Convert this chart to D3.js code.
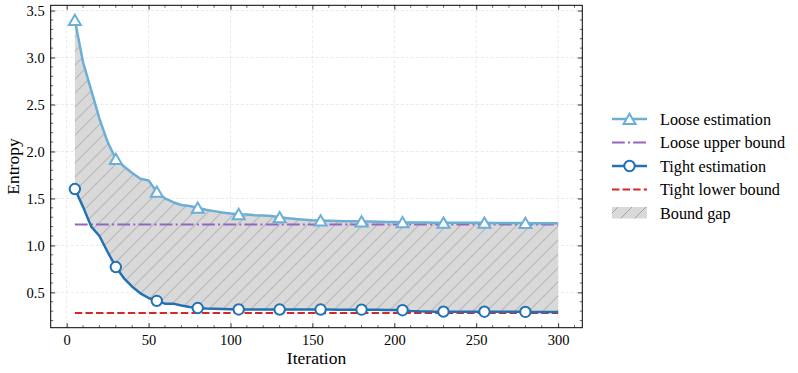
<!DOCTYPE html>
<html>
<head>
<meta charset="utf-8">
<script src="https://cdn.jsdelivr.net/npm/d3@7"></script>
<style>
body { margin: 0; background: #fff; }
text { font-family: "Liberation Serif", "DejaVu Serif", serif; fill: #000; }
</style>
</head>
<body>
<div id="chart"></div>
<script>
var svgWidth = 798;
var svgHeight = 373;

var margin = { top: 5.3, right: 215.7, bottom: 45.3, left: 50.7 };
var chartWidth = svgWidth - margin.left - margin.right;
var chartHeight = svgHeight - margin.top - margin.bottom;

// data: iteration every 5 steps
var iterations = d3.range(5, 301, 5);
var looseEstimation = [
    3.40, 2.95, 2.65, 2.35, 2.10, 1.92, 1.84, 1.77, 1.71, 1.69,
    1.57, 1.50, 1.46, 1.43, 1.42, 1.40, 1.38, 1.365, 1.35, 1.34,
    1.333, 1.328, 1.322, 1.318, 1.313, 1.300, 1.290, 1.280, 1.274, 1.268,
    1.264, 1.262, 1.260, 1.258, 1.256, 1.255, 1.254, 1.252, 1.250, 1.249,
    1.246, 1.245, 1.244, 1.243, 1.242, 1.242, 1.241, 1.241, 1.240, 1.240,
    1.240, 1.239, 1.239, 1.238, 1.238, 1.238, 1.237, 1.237, 1.236, 1.236
];
var tightEstimation = [
    1.60, 1.41, 1.20, 1.10, 0.93, 0.77, 0.65, 0.56, 0.49, 0.44,
    0.41, 0.38, 0.38, 0.36, 0.345, 0.333, 0.328, 0.325, 0.322, 0.320,
    0.318, 0.318, 0.318, 0.317, 0.317, 0.317, 0.317, 0.317, 0.317, 0.317,
    0.317, 0.317, 0.316, 0.316, 0.316, 0.316, 0.315, 0.314, 0.313, 0.312,
    0.310, 0.302, 0.298, 0.296, 0.295, 0.295, 0.295, 0.294, 0.294, 0.294,
    0.294, 0.293, 0.293, 0.293, 0.293, 0.292, 0.292, 0.292, 0.292, 0.292
];
var looseUpperBound = 1.223;
var tightLowerBound = 0.28;

var xTicks = [0, 50, 100, 150, 200, 250, 300];
var yTicks = [0.5, 1.0, 1.5, 2.0, 2.5, 3.0, 3.5];
var legendLabels = ["Loose estimation", "Loose upper bound", "Tight estimation", "Tight lower bound", "Bound gap"];

var data = iterations.map(function(it, i) {
    return { it: it, loose: looseEstimation[i], tight: tightEstimation[i] };
});

var colLoose = "#6baed6";
var colTight = "#2171b5";
var colUpper = "#9467bd";
var colLower = "#d62728";

var svg = d3.select("#chart")
    .append("svg")
    .attr("width", svgWidth)
    .attr("height", svgHeight);

var defs = svg.append("defs");
var pat = defs.append("pattern")
    .attr("id", "hatch")
    .attr("patternUnits", "userSpaceOnUse")
    .attr("width", 14)
    .attr("height", 14);
pat.append("rect").attr("width", 14).attr("height", 14).attr("fill", "#d9d9d9");
pat.append("path")
    .attr("d", "M0,14 L14,0 M-3.5,3.5 L3.5,-3.5 M10.5,17.5 L17.5,10.5")
    .attr("stroke", "#a3a3a3")
    .attr("stroke-width", 1);

var clip = defs.append("clipPath").attr("id", "plotclip");
clip.append("rect").attr("width", chartWidth).attr("height", chartHeight);

var chartGroup = svg.append("g")
    .attr("transform", `translate(${margin.left}, ${margin.top})`);

var xScale = d3.scaleLinear().domain([-9.75, 314.75]).range([0, chartWidth]);
var yScale = d3.scaleLinear().domain([0.124, 3.556]).range([chartHeight, 0]);

// grid
chartGroup.append("g")
    .selectAll("line.gx")
    .data(xTicks)
    .enter()
    .append("line")
    .attr("x1", d => xScale(d)).attr("x2", d => xScale(d))
    .attr("y1", 0).attr("y2", chartHeight)
    .attr("stroke", "#dcdcdc").attr("stroke-width", 0.6)
    .attr("stroke-dasharray", "3,2");
chartGroup.append("g")
    .selectAll("line.gy")
    .data(yTicks)
    .enter()
    .append("line")
    .attr("y1", d => yScale(d)).attr("y2", d => yScale(d))
    .attr("x1", 0).attr("x2", chartWidth)
    .attr("stroke", "#dcdcdc").attr("stroke-width", 0.6)
    .attr("stroke-dasharray", "3,2");

var plot = chartGroup.append("g").attr("clip-path", "url(#plotclip)");

// bound gap
var area = d3.area()
    .x(d => xScale(d.it))
    .y0(d => yScale(d.tight))
    .y1(d => yScale(d.loose));
plot.append("path")
    .datum(data)
    .attr("d", area)
    .attr("fill", "url(#hatch)");

// bounds
plot.append("line")
    .attr("x1", xScale(iterations[0])).attr("x2", xScale(iterations[iterations.length - 1]))
    .attr("y1", yScale(looseUpperBound)).attr("y2", yScale(looseUpperBound))
    .attr("stroke", colUpper).attr("stroke-width", 2)
    .attr("stroke-dasharray", "12.8,3.2,2,3.2");
plot.append("line")
    .attr("x1", xScale(iterations[0])).attr("x2", xScale(iterations[iterations.length - 1]))
    .attr("y1", yScale(tightLowerBound)).attr("y2", yScale(tightLowerBound))
    .attr("stroke", colLower).attr("stroke-width", 2)
    .attr("stroke-dasharray", "7.4,3.2");

var lineLoose = d3.line().x(d => xScale(d.it)).y(d => yScale(d.loose));
var lineTight = d3.line().x(d => xScale(d.it)).y(d => yScale(d.tight));

plot.append("path").datum(data).attr("d", lineLoose)
    .attr("fill", "none").attr("stroke", colLoose).attr("stroke-width", 2.5)
    .attr("stroke-linejoin", "round");
plot.append("path").datum(data).attr("d", lineTight)
    .attr("fill", "none").attr("stroke", colTight).attr("stroke-width", 2.5)
    .attr("stroke-linejoin", "round");

var marked = data.filter((d, i) => i % 5 === 0);

chartGroup.selectAll("path.tri")
    .data(marked)
    .enter()
    .append("path")
    .attr("d", "M0,-5.3 L6,5 L-6,5 Z")
    .attr("transform", d => `translate(${xScale(d.it)}, ${yScale(d.loose)})`)
    .attr("fill", "#fff").attr("stroke", colLoose).attr("stroke-width", 2);

chartGroup.selectAll("circle.dot")
    .data(marked)
    .enter()
    .append("circle")
    .attr("cx", d => xScale(d.it))
    .attr("cy", d => yScale(d.tight))
    .attr("r", 5.2)
    .attr("fill", "#fff").attr("stroke", colTight).attr("stroke-width", 2);

// axes with inward ticks on all sides
var xMinor = d3.range(-0, 311, 10).filter(v => v % 50 !== 0);
var yMinor = d3.range(2, 36, 1).map(v => v / 10).filter(v => Math.round(v * 10) % 5 !== 0);

function tickFmt(d) { return d.toFixed(1); }

var xAxis = chartGroup.append("g")
    .attr("transform", `translate(0, ${chartHeight})`)
    .call(d3.axisBottom(xScale).tickValues(xTicks).tickSizeInner(-4.5).tickSizeOuter(0).tickPadding(6));
var yAxis = chartGroup.append("g")
    .call(d3.axisLeft(yScale).tickValues(yTicks).tickFormat(tickFmt).tickSizeInner(-4.5).tickSizeOuter(0).tickPadding(6));
[xAxis, yAxis].forEach(function(g) {
    g.select(".domain").remove();
    g.selectAll("text").style("font-family", "Liberation Serif").style("font-size", "14.5px");
    g.selectAll("line").attr("stroke", "#000").attr("stroke-width", 0.8);
});
xAxis.selectAll("text").attr("dy", "0.75em");

chartGroup.append("g")
    .call(d3.axisTop(xScale).tickValues(xTicks).tickSizeInner(-4.5).tickSizeOuter(0).tickFormat(""))
    .call(g => g.select(".domain").remove())
    .selectAll("line").attr("stroke", "#000").attr("stroke-width", 0.8);
chartGroup.append("g")
    .attr("transform", `translate(${chartWidth}, 0)`)
    .call(d3.axisRight(yScale).tickValues(yTicks).tickSizeInner(-4.5).tickSizeOuter(0).tickFormat(""))
    .call(g => g.select(".domain").remove())
    .selectAll("line").attr("stroke", "#000").attr("stroke-width", 0.8);

// minor ticks
chartGroup.append("g").selectAll("line").data(xMinor).enter().append("line")
    .attr("x1", d => xScale(d)).attr("x2", d => xScale(d))
    .attr("y1", chartHeight).attr("y2", chartHeight - 2.5)
    .attr("stroke", "#000").attr("stroke-width", 0.6);
chartGroup.append("g").selectAll("line").data(xMinor).enter().append("line")
    .attr("x1", d => xScale(d)).attr("x2", d => xScale(d))
    .attr("y1", 0).attr("y2", 2.5)
    .attr("stroke", "#000").attr("stroke-width", 0.6);
chartGroup.append("g").selectAll("line").data(yMinor).enter().append("line")
    .attr("y1", d => yScale(d)).attr("y2", d => yScale(d))
    .attr("x1", 0).attr("x2", 2.5)
    .attr("stroke", "#000").attr("stroke-width", 0.6);
chartGroup.append("g").selectAll("line").data(yMinor).enter().append("line")
    .attr("y1", d => yScale(d)).attr("y2", d => yScale(d))
    .attr("x1", chartWidth).attr("x2", chartWidth - 2.5)
    .attr("stroke", "#000").attr("stroke-width", 0.6);

// frame
chartGroup.append("rect")
    .attr("width", chartWidth).attr("height", chartHeight)
    .attr("fill", "none").attr("stroke", "#000").attr("stroke-width", 1);

// axis labels
chartGroup.append("text")
    .attr("x", chartWidth / 2)
    .attr("y", chartHeight + 36)
    .attr("text-anchor", "middle")
    .style("font-size", "17.5px")
    .text("Iteration");
chartGroup.append("text")
    .attr("transform", "rotate(-90)")
    .attr("x", -chartHeight / 2)
    .attr("y", -32)
    .attr("text-anchor", "middle")
    .style("font-size", "17.5px")
    .text("Entropy");

// legend
var legend = svg.append("g").attr("transform", "translate(612, 119)");
var rowH = 23.5;
legendLabels.forEach(function(label, i) {
    var row = legend.append("g").attr("transform", `translate(0, ${i * rowH})`);
    if (i === 0) {
        row.append("line").attr("x1", 0).attr("x2", 35).attr("stroke", colLoose).attr("stroke-width", 2.5);
        row.append("path").attr("d", "M0,-5.3 L6,5 L-6,5 Z").attr("transform", "translate(17.5,0)")
            .attr("fill", "#fff").attr("stroke", colLoose).attr("stroke-width", 2);
    } else if (i === 1) {
        row.append("line").attr("x1", 0).attr("x2", 35).attr("stroke", colUpper).attr("stroke-width", 2)
            .attr("stroke-dasharray", "12.8,3.2,2,3.2");
    } else if (i === 2) {
        row.append("line").attr("x1", 0).attr("x2", 35).attr("stroke", colTight).attr("stroke-width", 2.5);
        row.append("circle").attr("cx", 17.5).attr("cy", 0).attr("r", 5.2)
            .attr("fill", "#fff").attr("stroke", colTight).attr("stroke-width", 2);
    } else if (i === 3) {
        row.append("line").attr("x1", 0).attr("x2", 35).attr("stroke", colLower).attr("stroke-width", 2)
            .attr("stroke-dasharray", "7.4,3.2");
    } else {
        row.append("rect").attr("x", 0).attr("y", -6).attr("width", 35).attr("height", 11.5)
            .attr("fill", "url(#hatch)");
    }
    row.append("text")
        .attr("x", 48)
        .attr("y", 0)
        .attr("dy", "0.35em")
        .style("font-size", "16.2px")
        .text(label);
});
</script>
</body>
</html>
